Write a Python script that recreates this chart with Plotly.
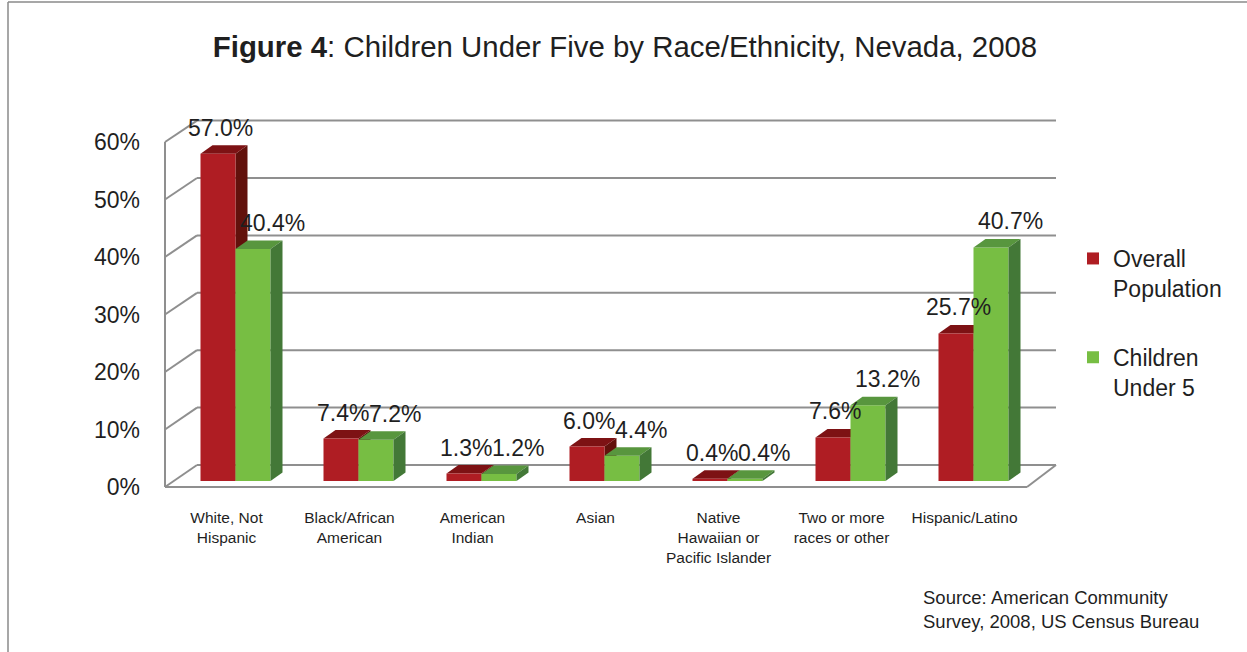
import plotly.graph_objects as go

# ---------------- data ----------------
categories = ["White, Not<br>Hispanic", "Black/African<br>American", "American<br>Indian", "Asian",
              "Native<br>Hawaiian or<br>Pacific Islander", "Two or more<br>races or other", "Hispanic/Latino"]
overall = [57.0, 7.4, 1.3, 6.0, 0.4, 7.6, 25.7]
children = [40.4, 7.2, 1.2, 4.4, 0.4, 13.2, 40.7]
series_names = ["Overall<br>Population", "Children<br>Under 5"]
y_ticks = [0, 10, 20, 30, 40, 50, 60]
y_tick_labels = ["0%", "10%", "20%", "30%", "40%", "50%", "60%"]
title_text = "<b>Figure 4</b>: Children Under Five by Race/Ethnicity, Nevada, 2008"
source_text = "Source: American Community<br>Survey, 2008, US Census Bureau"

# ---------------- styling / geometry ----------------
FONT = "Liberation Sans, Arial, sans-serif"
TXT = "#1f1f1f"
RED = ["#AF1D23", "#7D1214", "#62110C"]      # front, top, side
GRN = ["#77BE43", "#58963E", "#437837"]
GRID = "#8f8f8f"

W, H = 1247, 652
PL, PR, PT, PB = 150, 1070, 100, 500          # plot area in px
XU, X0 = 123.0, 235.5                         # px per category, px of category 0
YU, Y0 = 5.74, 481.0                          # px per %, px of 0 on bar plane


def xd(px):
    return (px - X0) / XU


def yd(py):
    return (Y0 - py) / YU


def px_paper(px):
    return (px - PL) / (PR - PL)


def py_paper(py):
    return (PB - py) / (PB - PT)


BAR_W = 35 / XU
DX, DY = 12 / XU, 8.5 / YU
positions = list(range(len(categories)))

fig = go.Figure()
fig.add_trace(go.Bar(x=positions, y=overall, width=BAR_W, offset=-BAR_W, name=series_names[0],
                     marker=dict(color=RED[0], line=dict(width=0)), legendgroup="a", hoverinfo="skip"))
fig.add_trace(go.Bar(x=positions, y=children, width=BAR_W, offset=0, name=series_names[1],
                     marker=dict(color=GRN[0], line=dict(width=0)), legendgroup="b", hoverinfo="skip"))

shapes = []
# back-wall gridlines, left wall diagonals, front frame
for t in y_ticks:
    yb = yd(465 - 5.74 * t)
    yf = yd(487 - 5.75 * t)
    shapes.append(dict(type="line", xref="x", yref="y", x0=xd(197), x1=xd(1056), y0=yb, y1=yb,
                       line=dict(color=GRID, width=2), layer="below"))
    shapes.append(dict(type="line", xref="x", yref="y", x0=xd(165), x1=xd(197), y0=yf, y1=yb,
                       line=dict(color=GRID, width=2), layer="below"))
shapes.append(dict(type="line", xref="x", yref="y", x0=xd(165), x1=xd(165), y0=yd(487),
                   y1=yd(487 - 5.75 * y_ticks[-1]), line=dict(color=GRID, width=2), layer="below"))
shapes.append(dict(type="line", xref="x", yref="y", x0=xd(165), x1=xd(1027), y0=yd(487), y1=yd(487),
                   line=dict(color=GRID, width=2), layer="below"))
shapes.append(dict(type="line", xref="x", yref="y", x0=xd(1027), x1=xd(1056), y0=yd(487), y1=yd(465),
                   line=dict(color=GRID, width=2), layer="below"))


def top_path(x0, x1, v):
    return f"M {x0},{v} L {x1},{v} L {x1 + DX},{v + DY} L {x0 + DX},{v + DY} Z"


def side_path(x1, v):
    return f"M {x1},0 L {x1},{v} L {x1 + DX},{v + DY} L {x1 + DX},{DY} Z"


for i, (vo, vc) in enumerate(zip(overall, children)):
    rx0, rx1 = i - BAR_W, i
    gx0, gx1 = i, i + BAR_W
    shapes.append(dict(type="path", xref="x", yref="y", path=side_path(rx1, vo), fillcolor=RED[2],
                       line=dict(width=0), layer="between"))
    shapes.append(dict(type="path", xref="x", yref="y", path=top_path(rx0, rx1, vo), fillcolor=RED[1],
                       line=dict(width=0), layer="between"))
    shapes.append(dict(type="path", xref="x", yref="y", path=top_path(gx0, gx1, vc), fillcolor=GRN[1],
                       line=dict(width=0), layer="above"))
    shapes.append(dict(type="path", xref="x", yref="y", path=side_path(gx1, vc), fillcolor=GRN[2],
                       line=dict(width=0), layer="above"))

# page border
shapes.append(dict(type="line", xref="paper", yref="paper", x0=px_paper(8), x1=px_paper(1260),
                   y0=py_paper(2), y1=py_paper(2), line=dict(color="#8a8a8a", width=1.5)))
shapes.append(dict(type="line", xref="paper", yref="paper", x0=px_paper(8), x1=px_paper(8),
                   y0=py_paper(2), y1=py_paper(660), line=dict(color="#8a8a8a", width=1.5)))

annotations = []
for i, (vo, vc) in enumerate(zip(overall, children)):
    annotations.append(dict(x=i - BAR_W / 2 + 2 / XU, y=vo, xref="x", yref="y", text=f"{vo:.1f}%",
                            showarrow=False, yanchor="bottom", yshift=11,
                            font=dict(family=FONT, size=23, color=TXT)))
    annotations.append(dict(x=i + BAR_W / 2 + 19 / XU, y=vc, xref="x", yref="y", text=f"{vc:.1f}%",
                            showarrow=False, yanchor="bottom", yshift=11,
                            font=dict(family=FONT, size=23, color=TXT)))
annotations.append(dict(x=px_paper(921), y=py_paper(585), xref="paper", yref="paper", text=source_text,
                        showarrow=False, xanchor="left", yanchor="top", align="left",
                        font=dict(family=FONT, size=18.5, color=TXT)))

fig.update_layout(
    width=W, height=H,
    margin=dict(l=PL, r=W - PR, t=PT, b=H - PB),
    paper_bgcolor="white", plot_bgcolor="white",
    barmode="overlay",
    title=dict(text=title_text, x=625 / W, xref="container", xanchor="center",
               y=1 - 47 / H, yanchor="middle",
               font=dict(family=FONT, size=29.4, color=TXT)),
    xaxis=dict(range=[xd(PL), xd(PR)], tickvals=[p - 9 / XU for p in positions], ticktext=categories,
               showgrid=False, zeroline=False, showline=False, ticks="", ticklabelstandoff=6,
               tickfont=dict(family=FONT, size=15.5, color=TXT), fixedrange=True),
    yaxis=dict(range=[yd(PB), yd(PT)], tickvals=[yd(487 - 5.75 * t) for t in y_ticks], ticktext=y_tick_labels,
               showgrid=False, zeroline=False, showline=False, ticks="", ticklabelstandoff=9,
               tickfont=dict(family=FONT, size=23, color=TXT), fixedrange=True),
    legend=dict(x=px_paper(1073), y=py_paper(237), xanchor="left", yanchor="top",
                font=dict(family=FONT, size=23, color=TXT), valign="top", tracegroupgap=36,
                bgcolor="rgba(0,0,0,0)"),
    shapes=shapes, annotations=annotations,
)

fig.write_html("out.html")
